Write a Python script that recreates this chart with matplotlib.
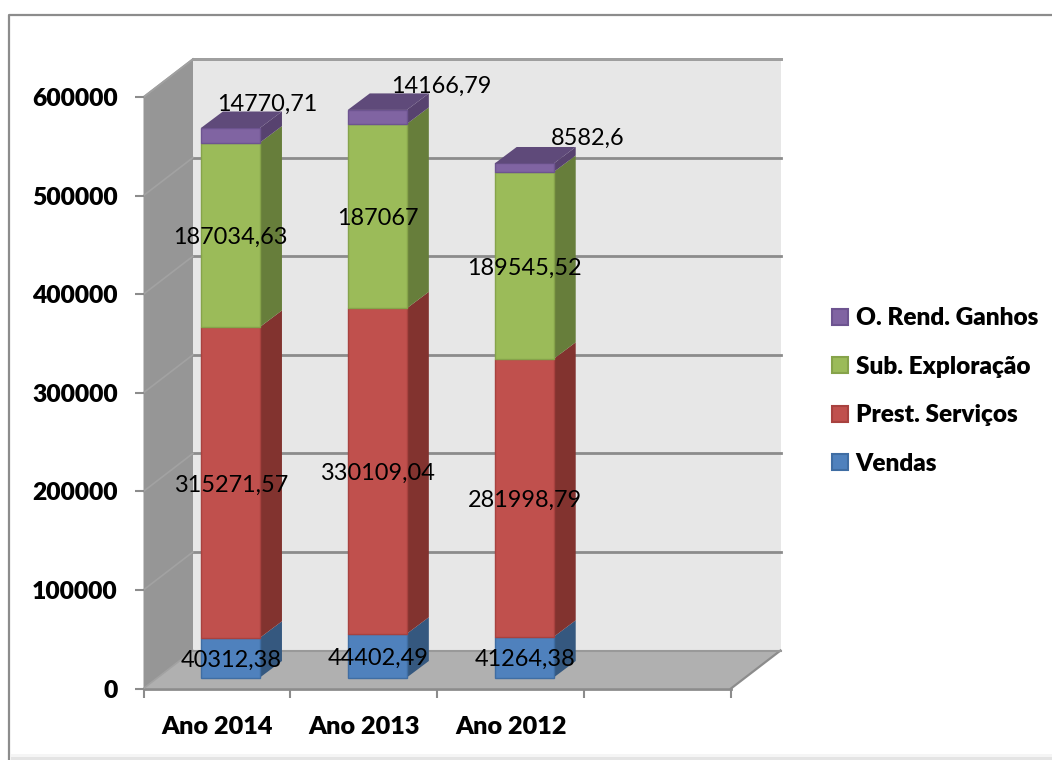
import matplotlib
matplotlib.use("Agg")
import matplotlib.pyplot as plt
from matplotlib.patches import Patch, Polygon, Rectangle
from matplotlib.transforms import IdentityTransform

plt.rcParams['font.family'] = ['Lato', 'DejaVu Sans']

categories = ['Ano 2014', 'Ano 2013', 'Ano 2012']
vendas = [40312.38, 44402.49, 41264.38]
prest_servicos = [315271.57, 330109.04, 281998.79]
sub_exploracao = [187034.63, 187067, 189545.52]
o_rend_ganhos = [14770.71, 14166.79, 8582.6]
vendas_labels = ['40312,38', '44402,49', '41264,38']
prest_labels = ['315271,57', '330109,04', '281998,79']
sub_labels = ['187034,63', '187067', '189545,52']
rend_labels = ['14770,71', '14166,79', '8582,6']
series_names = ['Vendas', 'Prest. Serviços', 'Sub. Exploração', 'O. Rend. Ganhos']
y_ticks = [0, 100000, 200000, 300000, 400000, 500000, 600000]

front_colors = ['#4f81bd', '#c0504d', '#9bbb59', '#8064a2']
side_colors = ['#35587f', '#82332f', '#677e3b', '#57426f']
edge_colors = ['#3f6da3', '#a8423f', '#86a34a', '#6d5490']
top_color = '#5f4a7a'

W, H = 1052, 760
fig = plt.figure(figsize=(W / 100, H / 100), dpi=100)
ax = fig.add_axes([143.5 / W, (H - 688.5) / H, 587.5 / W, 591.5 / H])
ax.set_xlim(0, 4)
ax.set_ylim(0, 600000)
ax.patch.set_alpha(0)
for s in ax.spines.values():
    s.set_visible(False)

# chart frame, open at the right and bottom
fig.add_artist(Rectangle((11 / W, 0), 1 - 11 / W, 3 / H, transform=fig.transFigure, fc='#e4e4e4', ec='none'))
fig.add_artist(Rectangle((11 / W, 3 / H), 1 - 11 / W, 3 / H, transform=fig.transFigure, fc='#f5f5f5', ec='none'))
fig.add_artist(plt.Line2D([9.5 / W, 9.5 / W, 1], [0, 1 - 15 / H, 1 - 15 / H], transform=fig.transFigure,
                          color='#8c8c8c', lw=1.6))


def px(x, v, dx=0, dy=0):
    p = ax.transData.transform((x, v))
    return (p[0] + dx, p[1] + dy)


def poly(points, **kw):
    kw.setdefault('lw', 0)
    ax.add_patch(Polygon(points, closed=True, transform=IdentityTransform(), clip_on=False, **kw))


def line(a, b, color='#8c8c8c', lw=2.0):
    ax.add_line(plt.Line2D([a[0], b[0]], [a[1], b[1]], transform=IdentityTransform(), color=color,
                           lw=lw, clip_on=False, zorder=1.5))


DX, DY = 49.5, 38

# walls and floor
poly([px(0, 0, DX, DY), px(4, 0, DX, DY), px(4, 600000, DX, DY), px(0, 600000, DX, DY)], fc='#e7e7e7', ec='#c4c4c4', zorder=1)
poly([px(0, 0), px(0, 600000), px(0, 600000, DX, DY), px(0, 0, DX, DY)], fc='#969696', zorder=1)
poly([px(0, 0), px(4, 0), px(4, 0, DX, DY), px(0, 0, DX, DY)], fc='#b0b0b0', zorder=1)

for v in y_ticks:
    if v > 0:
        line(px(0, v, DX, DY), px(4, v, DX, DY))
        line(px(0, v), px(0, v, DX, DY), color='#a2a2a2', lw=1.2)
line(px(0, 0), px(4, 0))
line(px(4, 0), px(4, 0, DX, DY), lw=1.6)
line(px(0, 0), px(0, 0, DX, DY), color='#a2a2a2', lw=1.2)
line(px(0, 0, DX, DY), px(4, 0, DX, DY), color='#999999', lw=1.5)
line(px(0, 600000), px(0, 600000, DX, DY), color='#a0a0a0', lw=1.2)
line(px(0, 600000, DX, DY), px(4, 600000, DX, DY), color='#a0a0a0', lw=2.0)

# stacked bars, set back from the front plane
BAR_W = 0.402
OFF_X, OFF_Y = 13.5, 11
SIDE_X, SIDE_Y = 22, 16.5
stacks = [vendas, prest_servicos, sub_exploracao, o_rend_ganhos]
stack_labels = [vendas_labels, prest_labels, sub_labels, rend_labels]
top_offsets = [(36, 33), (64, 33), (63, 32)]

for i in range(len(categories)):
    xc = i + 0.5
    x0, x1 = xc - BAR_W / 2, xc + BAR_W / 2
    base = 0
    for k, vals in enumerate(stacks):
        v = vals[i]
        a = px(x1, base, OFF_X, OFF_Y)
        b = px(x1, base + v, OFF_X, OFF_Y)
        poly([a, b, (b[0] + SIDE_X, b[1] + SIDE_Y), (a[0] + SIDE_X, a[1] + SIDE_Y)], fc=side_colors[k], zorder=3)
        poly([px(x0, base, OFF_X, OFF_Y), px(x1, base, OFF_X, OFF_Y), b, px(x0, base + v, OFF_X, OFF_Y)],
             fc=front_colors[k], ec=edge_colors[k], lw=1.0, zorder=3)
        if k == len(stacks) - 1:
            c = px(x0, base + v, OFF_X, OFF_Y)
            poly([c, b, (b[0] + SIDE_X, b[1] + SIDE_Y), (c[0] + SIDE_X, c[1] + SIDE_Y)], fc=top_color, zorder=3)
        base += v

for i in range(len(categories)):
    xc = i + 0.5
    base = 0
    for k, vals in enumerate(stacks):
        v = vals[i]
        ox, oy = OFF_X, OFF_Y
        if k == len(stacks) - 1:
            ox += top_offsets[i][0]
            oy += top_offsets[i][1]
        ax.annotate(stack_labels[k][i], xy=(xc, base + v / 2), xytext=(ox * 0.72 + 0.3, oy * 0.72 - 1.8),
                    textcoords='offset points', ha='center', va='center', fontsize=16.9,
                    color='black', zorder=5, annotation_clip=False)
        base += v

ax.set_xticks([0, 1, 2, 3, 4])
ax.set_xticklabels([])
ax.set_yticks(y_ticks)
ax.set_yticklabels([str(v) for v in y_ticks], fontsize=17.7, fontweight='heavy')
ax.tick_params(axis='both', length=6.5, width=1.5, color='#8c8c8c', pad=12)
for i, name in enumerate(categories):
    ax.annotate(name, xy=(i + 0.5, 0), xytext=(0, -27.5), textcoords='offset points', ha='center', va='center',
                fontsize=18.2, fontweight='heavy', annotation_clip=False)

handles = [Patch(fc=front_colors[k], ec=edge_colors[k], lw=1.5) for k in range(4)]
fig.legend(handles[::-1], series_names[::-1], loc='center left', bbox_to_anchor=(825 / W, 1 - 391 / H),
           frameon=False, prop={'size': 17.6, 'weight': 'heavy'}, handlelength=0.63, handleheight=0.63,
           handletextpad=0.33, labelspacing=1.08, borderpad=0.3, borderaxespad=0)

fig.savefig('out.png', dpi=100)
